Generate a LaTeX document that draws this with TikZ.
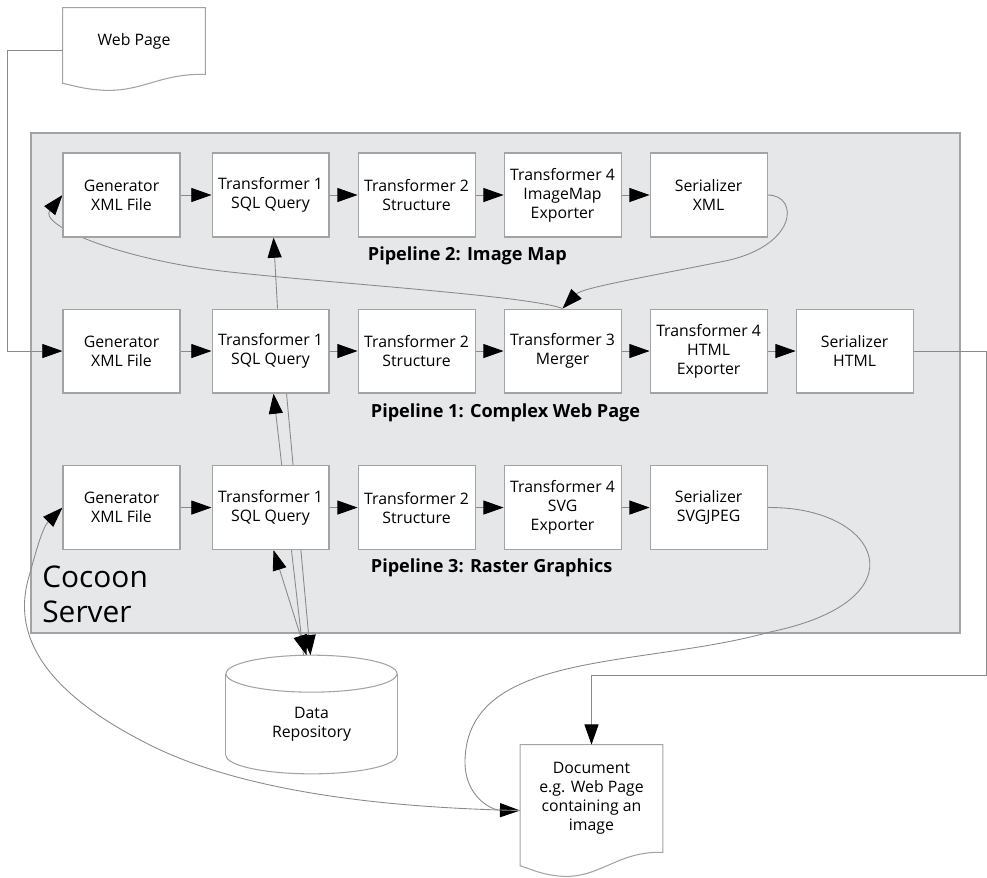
\documentclass[tikz,border=0pt]{standalone}
\usepackage{fontspec}
\setmainfont{Open Sans}
\usetikzlibrary{arrows.meta,positioning,calc,backgrounds}

\definecolor{serverfill}{HTML}{E6E7E9}
\definecolor{edgegray}{HTML}{A3A3A3}
\definecolor{linegray}{HTML}{8A8A8A}

% page with a wavy lower edge, drawn round a node
\newcommand{\pageshape}[2]{%
  \draw[boxline, fill=white] (#1.north west) -- (#1.north east) -- (#1.south east)
    .. controls ($(#1.south east)+(-45,{-1*#2})$) and ($(#1.south east)+(-62,{17*#2})$)
    .. ($(#1.south east)+(-100,{16*#2})$)
    .. controls ($(#1.south east)+(-122,{15*#2})$) and ($(#1.south east)+(-132,{11*#2})$)
    .. ($(#1.south west)+(0,{9*#2})$) -- cycle;
}

\begin{document}
\begin{tikzpicture}[
    x = 0.02cm, y = -0.02cm, % one unit is one pixel, y goes down
    > = {Triangle[length=11.5pt,width=8pt,black]},
    node distance = 1.42cm and 0.56cm,
    font = \fontsize{9}{10.8}\selectfont
    ]

    \tikzset{
    boxline/.style = {draw=edgegray, line width=0.6pt},
    stage/.style = {boxline, fill=white, align=center,
        minimum width=2.34cm, minimum height=1.68cm, inner sep=1pt},
    page/.style = {align=center, minimum width=2.84cm, inner sep=1pt},
    flow/.style = {draw=linegray, line width=0.5pt, ->},
    pipeline/.style = {font=\fontsize{10.3}{12}\selectfont\bfseries, inner sep=0pt},
    server/.style = {font=\fontsize{17}{20}\selectfont, align=left, inner sep=0pt}
    }

    \useasboundingbox (0,0) rectangle (987,877);

    % pipeline 2
    \node[stage] (g1) at (121.5,195) {Generator\\XML File};
    \node[stage] (t11) [right=0.62cm of g1] {Transformer 1\\SQL Query};
    \node[stage] (t21) [right=of t11] {Transformer 2\\Structure};
    \node[stage] (t41) [right=of t21] {Transformer 4\\ImageMap\\Exporter};
    \node[stage] (s1) [right=of t41] {Serializer\\XML};

    % pipeline 1
    \node[stage] (g2) [below=of g1] {Generator\\XML File};
    \node[stage] (t12) [right=0.62cm of g2] {Transformer 1\\SQL Query};
    \node[stage] (t22) [right=of t12] {Transformer 2\\Structure};
    \node[stage] (t32) [right=of t22] {Transformer 3\\Merger};
    \node[stage] (t42) [right=of t32] {Transformer 4\\HTML\\Exporter};
    \node[stage] (s2) [right=of t42] {Serializer\\HTML};

    % pipeline 3
    \node[stage] (g3) [below=1.43cm of g2] {Generator\\XML File};
    \node[stage] (t13) [right=0.62cm of g3] {Transformer 1\\SQL Query};
    \node[stage] (t23) [right=of t13] {Transformer 2\\Structure};
    \node[stage] (t43) [right=of t23] {Transformer 4\\SVG\\Exporter};
    \node[stage] (s3) [right=of t43] {Serializer\\SVGJPEG};

    \node[pipeline, anchor=west] (pl2) at ($(t21.south west)+(10,18)$) {Pipeline 2: Image Map};
    \node[pipeline, anchor=west] (pl1) at ($(t22.south west)+(13,19)$) {Pipeline 1: Complex Web Page};
    \node[pipeline, anchor=west] (pl3) at ($(t23.south west)+(13,18)$) {Pipeline 3: Raster Graphics};
    \node[server, anchor=west] (cocoon) at (42,594) {Cocoon\\Server};

    \node[page, minimum height=1.32cm] (web) at (134,41) {Web Page};
    \node[page, minimum height=2.14cm] (doc) at (591.5,798.5) {Document\\e.g. Web Page\\containing an\\image};
    \node[minimum width=3.42cm, minimum height=2cm, align=center] (repo) at (311.5,724) {Data\\Repository};

    \coordinate (repotop) at ($(repo.north)+(0,-18.5)$);
    \coordinate (docin) at ($(doc.west)+(0,12)$);
    \coordinate (webturn) at (7,50);
    \coordinate (htmlturn) at (986,675);

    \begin{scope}[on background layer]
    \draw[draw=edgegray, fill=serverfill, line width=0.6pt] (31,133) rectangle (960,633);

    \pageshape{web}{1}
    \pageshape{doc}{1.5}

    % data repository
    \path[boxline, fill=white] ($(repo.south)+(0,-19)$) ellipse [x radius=85.5, y radius=18.5];
    \fill[white] (repo.north west) rectangle ($(repo.south east)+(0,-19)$);
    \draw[boxline] (repo.north west) -- ($(repo.south west)+(0,-19)$)
        (repo.north east) -- ($(repo.south east)+(0,-19)$);
    \path[boxline, fill=white] (repo.north) ellipse [x radius=85.5, y radius=18.5];

    \draw[flow] (g1) -- (t11);
    \draw[flow] (t11) -- (t21);
    \draw[flow] (t21) -- (t41);
    \draw[flow] (t41) -- (s1);
    \draw[flow] (g2) -- (t12);
    \draw[flow] (t12) -- (t22);
    \draw[flow] (t22) -- (t32);
    \draw[flow] (t32) -- (t42);
    \draw[flow] (t42) -- (s2);
    \draw[flow] (g3) -- (t13);
    \draw[flow] (t13) -- (t23);
    \draw[flow] (t23) -- (t43);
    \draw[flow] (t43) -- (s3);

    \draw[flow] (webturn -| web.west) -- (webturn) |- (g2.west);
    \draw[flow] (s2.east) -| (htmlturn) -| (doc.north);

    \draw[flow] ($(t12.north)+(7,0)$) -- ($(t11.south)+(3,0)$);
    \draw[flow] ($(repotop)+(-8,0)$) -- ($(t12.south)+(3,0)$);
    \draw[flow] ($(t12.south)+(16,0)$) -- ($(repotop)+(-1,0)$);
    \draw[flow, <->] ($(t13.south)+(3,0)$) -- ($(repotop)+(-5,0)$);

    \draw[flow] (s1.east) .. controls (800,195) and (798,248) .. (720,262)
        .. controls (640,278) and (582,288) .. (t32.north);
    \draw[flow] (t32.north) .. controls (530,296) and (340,284) .. (230,272)
        .. controls (120,260) and (38,225) .. (g1.west);
    \draw[flow] (s3.east) .. controls (880,506) and (925,600) .. (770,632)
        .. controls (640,668) and (468,650) .. (465,760)
        .. controls (464,795) and (490,810) .. (docin);
    \draw[flow] (docin) .. controls (400,808) and (250,795) .. (150,745)
        .. controls (50,695) and (12,640) .. (28,580)
        .. controls (35,555) and (42,528) .. (g3.west);
    \end{scope}
\end{tikzpicture}
\end{document}
